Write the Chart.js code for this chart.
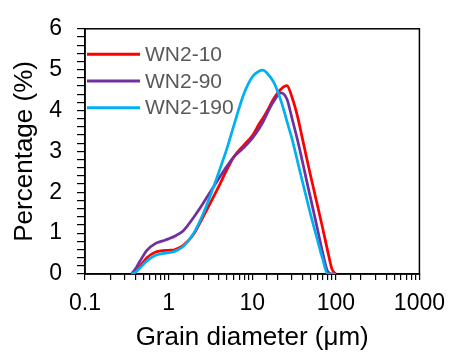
<!DOCTYPE html>
<html>
<head>
<meta charset="utf-8">
<script src="https://cdn.jsdelivr.net/npm/chart.js@4.4.1/dist/chart.umd.min.js"></script>
<style>
  html, body { margin: 0; padding: 0; background: #fff; }
  canvas { display: block; }
</style>
</head>
<body>
<canvas id="grainChart" width="455" height="352"></canvas>
<script>
// Diâmetros (µm)
const diameters = [0.36, 0.4, 0.45, 0.55, 0.7, 0.85, 1, 1.2, 1.5, 2, 2.5, 3, 4, 5, 6, 8, 10, 12, 13.5, 15, 18, 22, 26, 30, 35, 40, 45, 50, 60, 70, 80, 90, 100];

// Percentagens por amostra
const wn2_10 = [0, 0.06, 0.18, 0.40, 0.54, 0.57, 0.58, 0.60, 0.70, 0.98, 1.34, 1.65, 2.15, 2.56, 2.86, 3.16, 3.38, 3.66, 3.82, 3.98, 4.28, 4.52, 4.61, 4.32, 3.84, 3.30, 2.82, 2.40, 1.70, 1.10, 0.56, 0.12, 0];
const wn2_90 = [0, 0.12, 0.30, 0.58, 0.75, 0.81, 0.86, 0.93, 1.06, 1.39, 1.68, 1.94, 2.34, 2.64, 2.86, 3.10, 3.32, 3.55, 3.72, 3.92, 4.22, 4.43, 4.28, 3.80, 3.26, 2.74, 2.26, 1.85, 1.12, 0.50, 0.06, 0, 0];
const wn2_190 = [0, 0.04, 0.14, 0.32, 0.46, 0.50, 0.52, 0.56, 0.68, 1.00, 1.40, 1.80, 2.50, 3.08, 3.62, 4.42, 4.82, 4.96, 4.99, 4.92, 4.70, 4.25, 3.74, 3.30, 2.74, 2.25, 1.83, 1.45, 0.85, 0.35, 0, 0, 0];

const seriesLabels = ['WN2-10', 'WN2-90', 'WN2-190'];
const seriesColors = ['#FF0000', '#7030A0', '#00B0F0'];

const xTickLabels = ['0.1', '1', '10', '100', '1000'];
const yTickLabels = ['0', '1', '2', '3', '4', '5', '6'];

const FONT = "'Liberation Sans', Arial, sans-serif";

function toPoints(values) {
    return diameters.map((d, i) => ({ x: d, y: values[i] }));
}

// Moldura preta em volta da área do gráfico
const framePlugin = {
    id: 'frame',
    beforeDatasetsDraw(chart) {
        const { ctx, chartArea: a } = chart;
        ctx.save();
        ctx.strokeStyle = '#000';
        ctx.lineWidth = 1.5;
        ctx.strokeRect(a.left, a.top, a.right - a.left, a.bottom - a.top);
        ctx.restore();
    }
};

// Legenda dentro da área do gráfico, canto superior esquerdo
const insideLegend = {
    id: 'insideLegend',
    afterDatasetsDraw(chart) {
        const { ctx, chartArea: a } = chart;
        ctx.save();
        ctx.font = `21px ${FONT}`;
        ctx.textBaseline = 'middle';
        ctx.textAlign = 'left';
        chart.data.datasets.forEach((ds, i) => {
            const y = a.top + 25.5 + i * 26.7;
            ctx.strokeStyle = ds.borderColor;
            ctx.lineWidth = 3;
            ctx.beginPath();
            ctx.moveTo(a.left + 2, y);
            ctx.lineTo(a.left + 55, y);
            ctx.stroke();
            ctx.fillStyle = '#595959';
            ctx.fillText(ds.label, a.left + 60, y + 1);
        });
        ctx.restore();
    }
};

const ctx = document.getElementById('grainChart').getContext('2d');

const chart = new Chart(ctx, {
    type: 'line',
    data: {
        datasets: [
            { label: seriesLabels[0], data: toPoints(wn2_10), borderColor: seriesColors[0], order: 2 },
            { label: seriesLabels[1], data: toPoints(wn2_90), borderColor: seriesColors[1], order: 1 },
            { label: seriesLabels[2], data: toPoints(wn2_190), borderColor: seriesColors[2], order: 0 }
        ]
    },
    options: {
        responsive: false,
        animation: false,
        devicePixelRatio: 1,
        layout: { padding: { top: 24, right: 33, left: 0, bottom: 0 } },
        elements: {
            line: { borderWidth: 2.75, cubicInterpolationMode: 'monotone', fill: false },
            point: { radius: 0 }
        },
        scales: {
            x: {
                type: 'logarithmic',
                min: 0.1,
                max: 1000,
                afterFit(scale) { scale.height = 78; },
                border: { color: '#000', width: 1.5 },
                grid: { drawOnChartArea: false, color: '#000', tickLength: 6, lineWidth: 1.2 },
                ticks: {
                    autoSkip: false,
                    maxRotation: 0,
                    padding: 10,
                    color: '#000',
                    font: { family: FONT, size: 23 },
                    callback(value) {
                        const l = Math.log10(value);
                        if (Math.abs(l - Math.round(l)) > 1e-9) return '';
                        return xTickLabels[Math.round(l) + 1];
                    }
                },
                title: {
                    display: true,
                    text: 'Grain diameter (μm)',
                    color: '#000',
                    font: { family: FONT, size: 26, lineHeight: 1 },
                    padding: { top: 0, bottom: 1 }
                }
            },
            y: {
                min: 0,
                max: 6,
                afterFit(scale) { scale.width = 85; },
                border: { color: '#000', width: 1.5 },
                grid: { drawOnChartArea: false, color: '#000', tickLength: 8, lineWidth: 1.2 },
                ticks: {
                    stepSize: 0.2,
                    autoSkip: false,
                    padding: 15,
                    color: '#000',
                    font: { family: FONT, size: 23 },
                    callback(value) {
                        const r = Math.round(value);
                        return Math.abs(value - r) < 1e-6 ? yTickLabels[r] : '';
                    }
                },
                title: {
                    display: true,
                    text: 'Percentage (%)',
                    color: '#000',
                    font: { family: FONT, size: 26, lineHeight: 1 },
                    padding: { top: 12, bottom: 0 }
                }
            }
        },
        plugins: {
            legend: { display: false },
            tooltip: { enabled: false }
        }
    },
    plugins: [framePlugin, insideLegend]
});
</script>
</body>
</html>
